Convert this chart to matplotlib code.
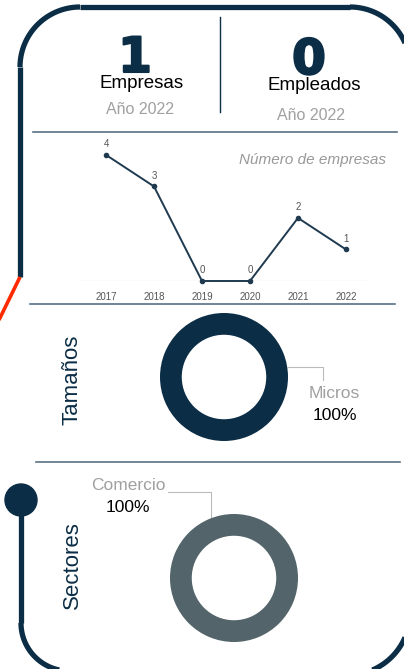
import matplotlib
matplotlib.use("Agg")
import matplotlib.pyplot as plt
import matplotlib.patheffects as pe
from matplotlib.patches import Circle
import numpy as np

plt.rcParams['font.family'] = ['Liberation Sans', 'DejaVu Sans']

# data
empresas_total = 1
empleados_total = 0
anio = 2022
years = [2017, 2018, 2019, 2020, 2021, 2022]
n_empresas = [4, 3, 0, 0, 2, 1]
tamanos_labels = ['Micros']
tamanos_values = [100]
sectores_labels = ['Comercio']
sectores_values = [100]

NAVY = '#0b2d45'
SLATE = '#5a7184'
GRAY = '#a0a0a0'
W, H = 404, 669

fig = plt.figure(figsize=(W / 100, H / 100), dpi=100)

# pixel-space canvas for the frame and texts (y grows downwards)
bg = fig.add_axes([0, 0, 1, 1])
bg.set_xlim(0, W)
bg.set_ylim(H, 0)
bg.axis('off')

lw = 3.8


def arc(cx, cy, r, t1, t2, **kw):
    t = np.radians(np.linspace(t1, t2, 60))
    bg.plot(cx + r * np.cos(t), cy + r * np.sin(t), **kw)


frame = dict(color=NAVY, lw=lw, solid_capstyle='butt', clip_on=False)
# top frame
bg.plot([20, 20], [67, 277], **frame)
arc(80, 67, 60, 180, 270, **frame)
bg.plot([80, 350], [7, 7], **frame)
arc(350, 67, 60, 270, 360, **frame)
bg.plot([410, 410], [67, 613], **frame)
arc(348, 613, 62, 0, 90, **frame)
# red connector
bg.plot([20, -2], [277, 322], color='#ff2a00', lw=2.6, solid_capstyle='butt')
# bottom-left connector
bg.add_patch(Circle((21, 500), 16, color=NAVY))
bg.plot([21, 21], [500, 623], **frame)
arc(69, 623, 48, 90, 180, **frame)

# header
big = dict(ha='center', va='baseline', fontsize=35, fontweight='bold', color=NAVY,
           family=['DejaVu Sans'],
           path_effects=[pe.withStroke(linewidth=1.5, foreground=NAVY)])
bg.text(135, 72, str(empresas_total), **big)
bg.text(309, 74, str(empleados_total), **big)
bg.text(142, 84, 'Empresas', ha='center', va='center', fontsize=13.5, color='black')
bg.text(314, 85, 'Empleados', ha='center', va='center', fontsize=13.5, color='black')
bg.text(140, 110, f'Año {anio}', ha='center', va='center', fontsize=11.5, color=GRAY)
bg.text(311, 115, f'Año {anio}', ha='center', va='center', fontsize=11.5, color=GRAY)
bg.plot([220, 220], [17, 112], color=NAVY, lw=1)

# section dividers
bg.plot([33, 397], [132, 132], color=SLATE, lw=1.2)
bg.plot([30, 395], [304, 304], color=SLATE, lw=1.2)
bg.plot([36, 400], [462, 462], color=SLATE, lw=1.2)

# line chart
ax = fig.add_axes([82 / W, 1 - 281 / H, 288 / W, 145 / H])
ax.set_xlim(years[0] - 0.5, years[-1] + 0.5)
ax.set_ylim(0, 4.6)
ax.axhline(0, color='#e6e6e6', lw=1, zorder=0)
ax.plot(years, n_empresas, color='#1f3a4f', lw=1.4, marker='o', markersize=3, clip_on=False)
for x, y in zip(years, n_empresas):
    ax.annotate(str(y), (x, y), xytext=(0, 4), textcoords='offset points',
                ha='center', va='bottom', fontsize=7, color='#555555')
ax.set_xticks(years)
ax.set_xticklabels([str(y) for y in years], fontsize=7, color='#555555')
ax.tick_params(axis='x', length=0, pad=8)
ax.set_yticks([])
for s in ax.spines.values():
    s.set_visible(False)
ax.patch.set_alpha(0)
bg.text(386, 160, 'Número de empresas', ha='right', va='center', fontsize=11,
        style='italic', color='#999999')


# donuts
def donut(cx, cy, values, color):
    a = fig.add_axes([(cx - 64) / W, 1 - (cy + 64) / H, 128 / W, 128 / H])
    a.pie(values, colors=[color], radius=1, startangle=90,
          wedgeprops=dict(width=0.34, edgecolor='none'))
    a.set_xlim(-1, 1)
    a.set_ylim(-1, 1)
    a.set_aspect('equal')
    a.axis('off')
    return a


donut(224, 377, tamanos_values, NAVY)
bg.plot([288, 323, 323], [367, 367, 380], color='#bbbbbb', lw=0.8)
bg.text(334, 394, tamanos_labels[0], ha='center', va='center', fontsize=12.5, color=GRAY)
bg.text(335, 416, f'{tamanos_values[0]}%', ha='center', va='center', fontsize=12.5, color='black')
bg.text(72, 380, 'Tamaños', ha='center', va='center', rotation=90, fontsize=16, color=NAVY)

donut(234, 578, sectores_values, '#53646b')
bg.plot([168, 211, 211], [492, 492, 518], color='#bbbbbb', lw=0.8)
bg.text(128, 485, sectores_labels[0], ha='center', va='center', fontsize=12.5, color=GRAY)
bg.text(128, 508, f'{sectores_values[0]}%', ha='center', va='center', fontsize=12.5, color='black')
bg.text(72, 565, 'Sectores', ha='center', va='center', rotation=90, fontsize=16, color=NAVY)

fig.savefig('out.png', dpi=100)
